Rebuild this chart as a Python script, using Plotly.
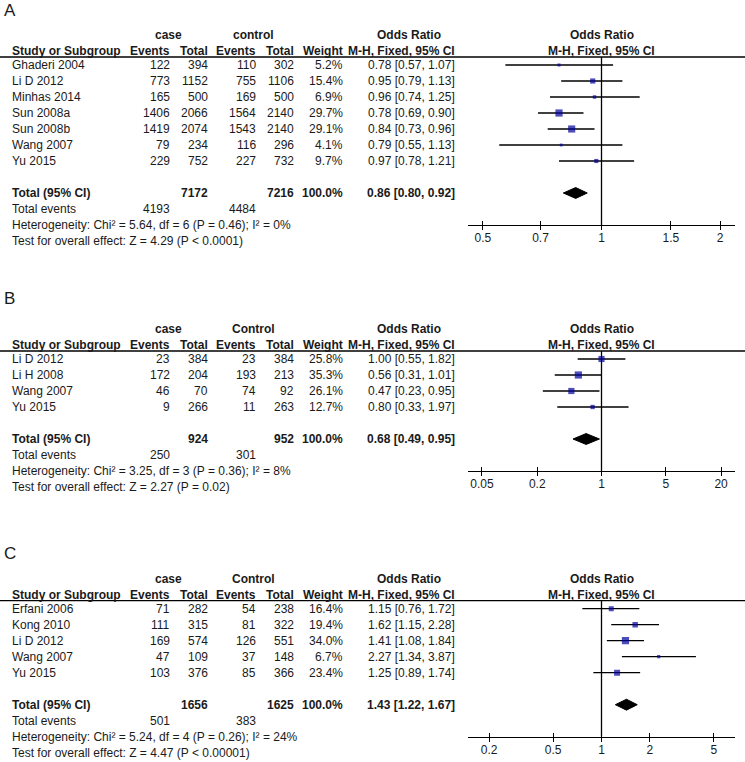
import math
import plotly.graph_objects as go

# ---------------- data ----------------
A_studies = ["Ghaderi 2004", "Li D 2012", "Minhas 2014", "Sun 2008a", "Sun 2008b", "Wang 2007", "Yu 2015"]
A_case_events = [122, 773, 165, 1406, 1419, 79, 229]
A_case_total = [394, 1152, 500, 2066, 2074, 234, 752]
A_ctrl_events = [110, 755, 169, 1564, 1543, 116, 227]
A_ctrl_total = [302, 1106, 500, 2140, 2140, 296, 732]
A_weight = [5.2, 15.4, 6.9, 29.7, 29.1, 4.1, 9.7]
A_or = [0.78, 0.95, 0.96, 0.78, 0.84, 0.79, 0.97]
A_lo = [0.57, 0.79, 0.74, 0.69, 0.73, 0.55, 0.78]
A_hi = [1.07, 1.13, 1.25, 0.90, 0.96, 1.13, 1.21]
A_total = {"case_total": 7172, "ctrl_total": 7216, "or": 0.86, "lo": 0.80, "hi": 0.92,
           "case_events": 4193, "ctrl_events": 4484}
A_het = "Heterogeneity: Chi² = 5.64, df = 6 (P = 0.46); I² = 0%"
A_test = "Test for overall effect: Z = 4.29 (P &lt; 0.0001)"
A_ticks = [0.5, 0.7, 1, 1.5, 2]
A_ticklabels = ["0.5", "0.7", "1", "1.5", "2"]

B_studies = ["Li D 2012", "Li H 2008", "Wang 2007", "Yu 2015"]
B_case_events = [23, 172, 46, 9]
B_case_total = [384, 204, 70, 266]
B_ctrl_events = [23, 193, 74, 11]
B_ctrl_total = [384, 213, 92, 263]
B_weight = [25.8, 35.3, 26.1, 12.7]
B_or = [1.00, 0.56, 0.47, 0.80]
B_lo = [0.55, 0.31, 0.23, 0.33]
B_hi = [1.82, 1.01, 0.95, 1.97]
B_total = {"case_total": 924, "ctrl_total": 952, "or": 0.68, "lo": 0.49, "hi": 0.95,
           "case_events": 250, "ctrl_events": 301}
B_het = "Heterogeneity: Chi² = 3.25, df = 3 (P = 0.36); I² = 8%"
B_test = "Test for overall effect: Z = 2.27 (P = 0.02)"
B_ticks = [0.05, 0.2, 1, 5, 20]
B_ticklabels = ["0.05", "0.2", "1", "5", "20"]

C_studies = ["Erfani 2006", "Kong 2010", "Li D 2012", "Wang 2007", "Yu 2015"]
C_case_events = [71, 111, 169, 47, 103]
C_case_total = [282, 315, 574, 109, 376]
C_ctrl_events = [54, 81, 126, 37, 85]
C_ctrl_total = [238, 322, 551, 148, 366]
C_weight = [16.4, 19.4, 34.0, 6.7, 23.4]
C_or = [1.15, 1.62, 1.41, 2.27, 1.25]
C_lo = [0.76, 1.15, 1.08, 1.34, 0.89]
C_hi = [1.72, 2.28, 1.84, 3.87, 1.74]
C_total = {"case_total": 1656, "ctrl_total": 1625, "or": 1.43, "lo": 1.22, "hi": 1.67,
           "case_events": 501, "ctrl_events": 383}
C_het = "Heterogeneity: Chi² = 5.24, df = 4 (P = 0.26); I² = 24%"
C_test = "Test for overall effect: Z = 4.47 (P &lt; 0.00001)"
C_ticks = [0.2, 0.5, 1, 2, 5]
C_ticklabels = ["0.2", "0.5", "1", "2", "5"]

panels = [
    dict(label="A", ctrl_name="control", studies=A_studies, ce=A_case_events, ct=A_case_total,
         ke=A_ctrl_events, kt=A_ctrl_total, w=A_weight, orr=A_or, lo=A_lo, hi=A_hi,
         tot=A_total, het=A_het, test=A_test, ticks=A_ticks, tl=A_ticklabels,
         row0=65.0, letter_px=10.0, half_log=0.339),
    dict(label="B", ctrl_name="Control", studies=B_studies, ce=B_case_events, ct=B_case_total,
         ke=B_ctrl_events, kt=B_ctrl_total, w=B_weight, orr=B_or, lo=B_lo, hi=B_hi,
         tot=B_total, het=B_het, test=B_test, ticks=B_ticks, tl=B_ticklabels,
         row0=359.0, letter_px=298.0, half_log=1.4525),
    dict(label="C", ctrl_name="Control", studies=C_studies, ce=C_case_events, ct=C_case_total,
         ke=C_ctrl_events, kt=C_ctrl_total, w=C_weight, orr=C_or, lo=C_lo, hi=C_hi,
         tot=C_total, het=C_het, test=C_test, ticks=C_ticks, tl=C_ticklabels,
         row0=608.7, letter_px=553.3, half_log=0.831),
]

# ---------------- layout constants ----------------
W, H = 745, 762
ROW = 16.0
FONT = "Liberation Sans, Arial, Helvetica, sans-serif"
TXT = "#1a1a1a"
BLUE = "#00009C"
PLOT_X0, PLOT_X1 = 468, 735
COL_NAME = 10
COL_CE, COL_CT, COL_KE, COL_KT, COL_W, COL_OR = 172, 210, 258, 296, 345, 457
CASE_CENTER, CTRL_CENTER, OR_CENTER = 168, 253, 409
PLOT_CENTER = 601.5
LINE_W = 1.3


def px(xp):
    return xp / W


fig = go.Figure()
annotations = []
shapes = []
layout_axes = {}


def add_text(text, x_px, y_px, anchor="left", bold=False, size=12, color=TXT):
    if bold:
        text = "<b>" + text + "</b>"
    annotations.append(dict(text=text, x=px(x_px), xref="paper", y=1 - y_px / H, yref="paper",
                            xanchor=anchor, yanchor="middle", showarrow=False,
                            font=dict(family=FONT, size=size, color=color)))


for k, p in enumerate(panels):
    idx = "" if k == 0 else str(k + 1)
    xname, yname = "x" + idx, "y" + idx
    n = len(p["studies"])
    r0 = p["row0"]

    def rowpx(r):
        return r0 + ROW * r

    top_px = rowpx(-0.5)
    bot_px = rowpx(n + 3)
    ybot = n + 3
    ytop = -0.5

    # axes
    layout_axes["xaxis" + idx] = dict(
        type="log", domain=[px(PLOT_X0), px(PLOT_X1)],
        range=[-p["half_log"], p["half_log"]], anchor=yname,
        showline=True, linecolor="black", linewidth=1, mirror=False,
        ticks="outside", ticklen=4, tickwidth=1, tickcolor="black",
        ticklabelstandoff=-2,
        tickvals=p["ticks"], ticktext=p["tl"],
        tickfont=dict(family=FONT, size=12, color=TXT),
        showgrid=False, zeroline=False, fixedrange=True, automargin=False)
    ov = str(k + 4)
    layout_axes["xaxis" + ov] = dict(
        type="log", domain=[px(PLOT_X0), px(PLOT_X1)],
        range=[-p["half_log"], p["half_log"]], anchor=yname, overlaying=xname,
        showline=False, ticks="inside", ticklen=4, tickwidth=1, tickcolor="black",
        tickvals=p["ticks"], showticklabels=False, showgrid=False, zeroline=False,
        automargin=False, fixedrange=True)
    layout_axes["yaxis" + idx] = dict(
        domain=[1 - bot_px / H, 1 - top_px / H], range=[ybot, ytop],
        visible=False, showgrid=False, zeroline=False, fixedrange=True, automargin=False)

    # vertical line of no effect
    fig.add_trace(go.Scatter(x=[1, 1], y=[ytop, ybot], mode="lines",
                             line=dict(color="black", width=LINE_W), xaxis=xname, yaxis=yname,
                             hoverinfo="skip", showlegend=False))
    # dummy trace to activate the overlay axis (inside ticks)
    fig.add_trace(go.Scatter(x=[1], y=[ybot], mode="markers", marker=dict(opacity=0),
                             xaxis="x" + ov, yaxis=yname, hoverinfo="skip", showlegend=False))
    # CI lines
    cx, cy = [], []
    for i in range(n):
        cx += [p["lo"][i], p["hi"][i], None]
        cy += [i, i, None]
    fig.add_trace(go.Scatter(x=cx, y=cy, mode="lines", line=dict(color="black", width=LINE_W),
                             xaxis=xname, yaxis=yname, hoverinfo="skip", showlegend=False))
    # squares
    wmax = max(p["w"])
    sizes = [max(2.8, 7.2 * math.sqrt(w / wmax)) for w in p["w"]]
    fig.add_trace(go.Scatter(x=p["orr"], y=list(range(n)), mode="markers",
                             marker=dict(symbol="square", size=sizes, color=BLUE,
                                         line=dict(width=0)),
                             xaxis=xname, yaxis=yname, showlegend=False))
    # diamond
    t = p["tot"]
    ty = n + 1
    hh = 0.34
    fig.add_trace(go.Scatter(x=[t["lo"], t["or"], t["hi"], t["or"], t["lo"]],
                             y=[ty, ty - hh, ty, ty + hh, ty], mode="lines", fill="toself",
                             fillcolor="black", line=dict(color="black", width=1),
                             xaxis=xname, yaxis=yname, showlegend=False, hoverinfo="skip"))

    # header underline (full width)
    shapes.append(dict(type="line", xref="paper", x0=0, x1=1, yref="paper",
                       y0=1 - top_px / H, y1=1 - top_px / H,
                       line=dict(color="black", width=LINE_W)))

    # panel letter
    add_text(p["label"], 2, p["letter_px"], size=17)

    # headers
    h1 = rowpx(-1.86)
    h2 = rowpx(-0.88)
    add_text("case", CASE_CENTER, h1, anchor="center", bold=True)
    add_text(p["ctrl_name"], CTRL_CENTER, h1, anchor="center", bold=True)
    add_text("Odds Ratio", OR_CENTER, h1, anchor="center", bold=True)
    add_text("Odds Ratio", PLOT_CENTER, h1, anchor="center", bold=True)
    add_text("Study or Subgroup", COL_NAME, h2, bold=True)
    add_text("Events", COL_CE, h2, anchor="right", bold=True)
    add_text("Total", COL_CT, h2, anchor="right", bold=True)
    add_text("Events", COL_KE, h2, anchor="right", bold=True)
    add_text("Total", COL_KT, h2, anchor="right", bold=True)
    add_text("Weight", COL_W, h2, anchor="right", bold=True)
    add_text("M-H, Fixed, 95% CI", COL_OR, h2, anchor="right", bold=True)
    add_text("M-H, Fixed, 95% CI", PLOT_CENTER, h2, anchor="center", bold=True)

    # study rows
    for i in range(n):
        y = rowpx(i)
        add_text(p["studies"][i], COL_NAME, y)
        add_text(str(p["ce"][i]), COL_CE, y, anchor="right")
        add_text(str(p["ct"][i]), COL_CT, y, anchor="right")
        add_text(str(p["ke"][i]), COL_KE, y, anchor="right")
        add_text(str(p["kt"][i]), COL_KT, y, anchor="right")
        add_text(f"{p['w'][i]:.1f}%", COL_W, y, anchor="right")
        add_text(f"{p['orr'][i]:.2f} [{p['lo'][i]:.2f}, {p['hi'][i]:.2f}]", COL_OR, y,
                 anchor="right")

    # total rows
    y = rowpx(ty)
    add_text("Total (95% CI)", COL_NAME, y, bold=True)
    add_text(str(t["case_total"]), COL_CT, y, anchor="right", bold=True)
    add_text(str(t["ctrl_total"]), COL_KT, y, anchor="right", bold=True)
    add_text("100.0%", COL_W, y, anchor="right", bold=True)
    add_text(f"{t['or']:.2f} [{t['lo']:.2f}, {t['hi']:.2f}]", COL_OR, y,
             anchor="right", bold=True)
    y = rowpx(n + 2)
    add_text("Total events", COL_NAME, y)
    add_text(str(t["case_events"]), COL_CE, y, anchor="right")
    add_text(str(t["ctrl_events"]), COL_KE, y, anchor="right")
    add_text(p["het"], COL_NAME, rowpx(n + 3))
    add_text(p["test"], COL_NAME, rowpx(n + 4))

fig.update_layout(
    width=W, height=H, margin=dict(l=0, r=0, t=0, b=0, autoexpand=False),
    paper_bgcolor="white", plot_bgcolor="white",
    showlegend=False, annotations=annotations, shapes=shapes,
    font=dict(family=FONT, size=12, color=TXT),
    **layout_axes,
)

fig.write_html(
    "out.html",
    config={"displayModeBar": False},
    post_script="document.body.style.margin='0';document.body.style.overflow='hidden';",
)
